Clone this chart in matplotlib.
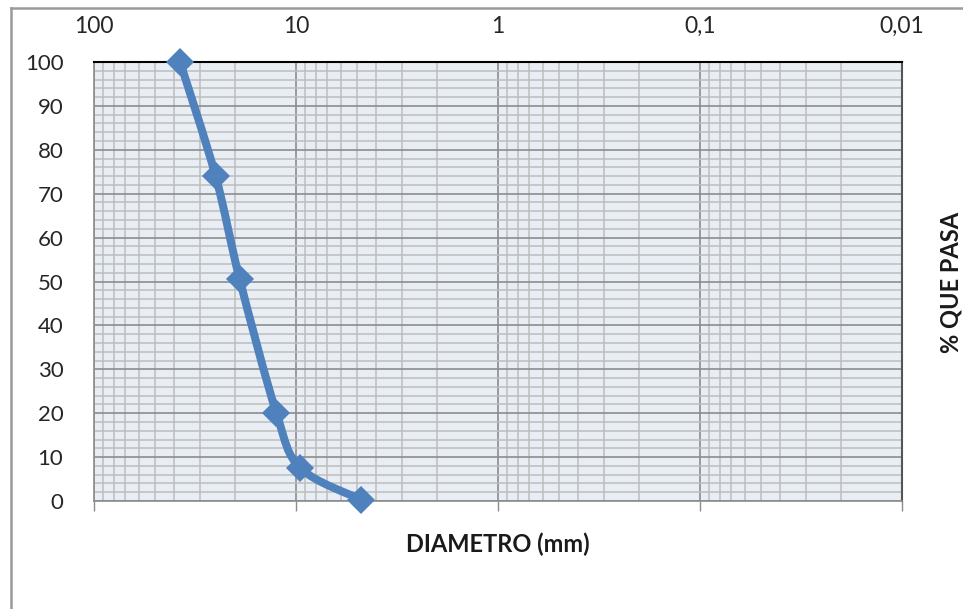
import matplotlib
matplotlib.use("Agg")
import matplotlib.pyplot as plt
import matplotlib.ticker as mticker
from matplotlib.lines import Line2D
from matplotlib.path import Path
from matplotlib.patches import PathPatch
import numpy as np

# sieve openings (mm) and percent passing
diametro = [37.5, 25.0, 19.0, 12.5, 9.5, 4.75]
pct_pasa = [100.0, 74.0, 50.5, 20.0, 7.5, 0.3]

x_ticks = [100, 10, 1, 0.1, 0.01]
x_tick_labels = ["100", "10", "1", "0,1", "0,01"]
y_ticks = [0, 10, 20, 30, 40, 50, 60, 70, 80, 90, 100]

plt.rcParams['font.family'] = ['Lato', 'DejaVu Sans']


def smooth_path(xs, ys):
    # Excel-like smoothed line: cubic bezier segments (catmull-rom) in log-x space
    lx = np.log10(xs)
    ys = np.asarray(ys, dtype=float)
    n = len(lx)
    verts = [(xs[0], ys[0])]
    codes = [Path.MOVETO]
    for i in range(n - 1):
        p0 = max(i - 1, 0)
        p3 = min(i + 2, n - 1)
        c1 = (lx[i] + (lx[i + 1] - lx[p0]) / 6, ys[i] + (ys[i + 1] - ys[p0]) / 6)
        c2 = (lx[i + 1] - (lx[p3] - lx[i]) / 6, ys[i + 1] - (ys[p3] - ys[i]) / 6)
        verts += [(10 ** c1[0], c1[1]), (10 ** c2[0], c2[1]), (xs[i + 1], ys[i + 1])]
        codes += [Path.CURVE4] * 3
    return Path(verts, codes)


fig = plt.figure(figsize=(9.63, 6.09), dpi=100)
ax = fig.add_axes([94 / 963, 1 - 501 / 609, 808 / 963, 439 / 609])

# chart area border (left and top edges visible)
bx, by = 11 / 963, 1 - 8 / 609
fig.add_artist(Line2D([bx, bx], [0, by], transform=fig.transFigure,
                      color='#9a9a9a', linewidth=1.8))
fig.add_artist(Line2D([bx, 1], [by, by], transform=fig.transFigure,
                      color='#9a9a9a', linewidth=1.8))

ax.set_facecolor('#e9edf4')
ax.set_xscale('log')
ax.set_xlim(100, 0.01)
ax.set_ylim(0, 100)

ax.xaxis.set_major_locator(mticker.FixedLocator(x_ticks))
ax.xaxis.set_major_formatter(mticker.FixedFormatter(x_tick_labels))
ax.xaxis.set_minor_locator(mticker.LogLocator(base=10, subs=np.arange(2, 10)))
ax.xaxis.set_minor_formatter(mticker.NullFormatter())
ax.set_yticks(y_ticks)
ax.yaxis.set_minor_locator(mticker.MultipleLocator(2))

ax.grid(True, which='major', color='#8c8c8c', linewidth=1.2)
ax.grid(True, which='minor', color='#bdbdbd', linewidth=1.1)
ax.set_axisbelow(True)

ax.tick_params(axis='x', which='major', top=False, bottom=True, labeltop=True,
               labelbottom=False, direction='out', length=7, width=1,
               color='#8c8c8c', pad=11, labelsize=16.5, labelcolor='#262626')
ax.tick_params(axis='x', which='minor', length=0)
ax.tick_params(axis='y', which='both', length=0, pad=22, labelsize=16,
               labelcolor='#262626')

for s in ['left', 'bottom']:
    ax.spines[s].set_color('#8c8c8c')
    ax.spines[s].set_linewidth(1.2)
ax.spines['top'].set_color('#000000')
ax.spines['top'].set_linewidth(1.5)
ax.spines['right'].set_color('#555555')
ax.spines['right'].set_linewidth(1.5)

ax.add_patch(PathPatch(smooth_path(diametro, pct_pasa), facecolor='none',
                       edgecolor='#4f81bd', linewidth=5.8, capstyle='round',
                       joinstyle='round', clip_on=False, zorder=4))
ax.plot(diametro, pct_pasa, linestyle='none', marker='D', color='#4f81bd',
        markersize=14, markeredgewidth=0, clip_on=False, zorder=5)

ax.set_xlabel('DIAMETRO (mm)', fontsize=17, fontweight='bold',
              labelpad=16, color='#1a1a1a')
fig.text(951 / 963, 1 - 282 / 609, '% QUE PASA', rotation=90, fontsize=17,
         fontweight='bold', ha='center', va='center', color='#1a1a1a')

fig.savefig('out.png', dpi=100)
